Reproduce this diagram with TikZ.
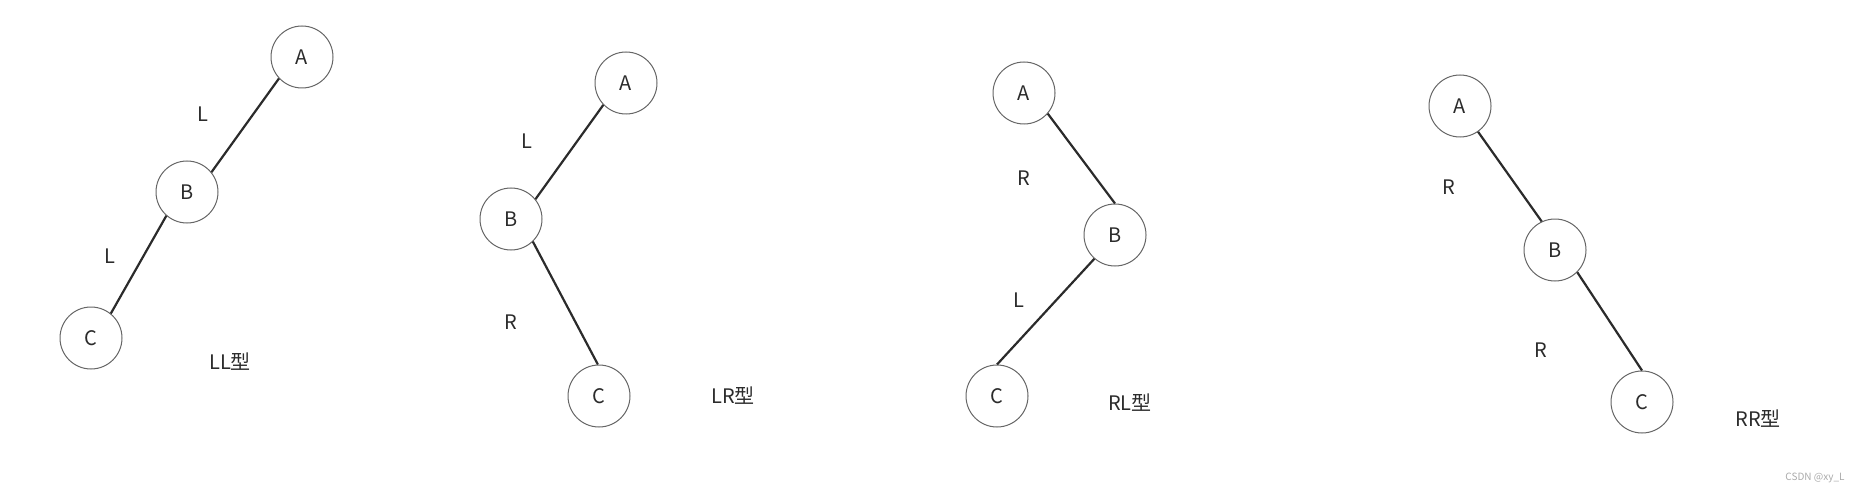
\documentclass[tikz,border=0pt]{standalone}
\usepackage{fontspec}
\setmainfont{Noto Sans CJK SC}
\definecolor{ink}{HTML}{2B2B2B}
\definecolor{rim}{HTML}{666666}
\definecolor{wm}{HTML}{AAAAAA}

\begin{document}
\begin{tikzpicture}[x=0.5pt, y=-0.5pt,
    every node/.style={font=\fontsize{10}{12}\selectfont, text=ink},
    vtx/.style={circle, draw=rim, line width=0.5pt, minimum size=31pt, inner sep=0pt},
    link/.style={ink, line width=1.1pt}]
  \useasboundingbox (0,0) rectangle (1858,492);
  % LL
  \node[vtx] (a1) at (302,57) {A};
  \node[vtx] (b1) at (187,192) {B};
  \node[vtx] (c1) at (91,338) {C};
  \draw[link] (a1.223) -- (b1.39);
  \draw[link] (b1.229) -- (c1.51);
  \node (l1) at (203,114) {L};
  \node (l2) at (110,256) {L};
  \node (t1) at (230,362) {LL型};
  % LR
  \node[vtx] (a2) at (626,83) {A};
  \node[vtx] (b2) at (511,219) {B};
  \node[vtx] (c2) at (599,396) {C};
  \draw[link] (a2.224) -- (b2.39);
  \draw[link] (b2.314) -- (c2.92);
  \node (l3) at (527,141) {L};
  \node (r1) at (511,322) {R};
  \node (t2) at (733,396) {LR型};
  % RL
  \node[vtx] (a3) at (1024,93) {A};
  \node[vtx] (b3) at (1115,235) {B};
  \node[vtx] (c3) at (997,396) {C};
  \draw[link] (a3.319) -- (b3.90);
  \draw[link] (b3.229) -- (c3.90);
  \node (r2) at (1024,178) {R};
  \node (l4) at (1019,300) {L};
  \node (t3) at (1130,403) {RL型};
  % RR
  \node[vtx] (a4) at (1460,106) {A};
  \node[vtx] (b4) at (1555,250) {B};
  \node[vtx] (c4) at (1642,402) {C};
  \draw[link] (a4.305) -- (b4.115);
  \draw[link] (b4.315) -- (c4.90);
  \node (r3) at (1449,187) {R};
  \node (r4) at (1541,350) {R};
  \node (t4) at (1758,419) {RR型};
  \node[font=\fontsize{5}{6}\selectfont, text=wm] (wmk) at (1815,478) {CSDN @xy\_L};
\end{tikzpicture}
\end{document}
